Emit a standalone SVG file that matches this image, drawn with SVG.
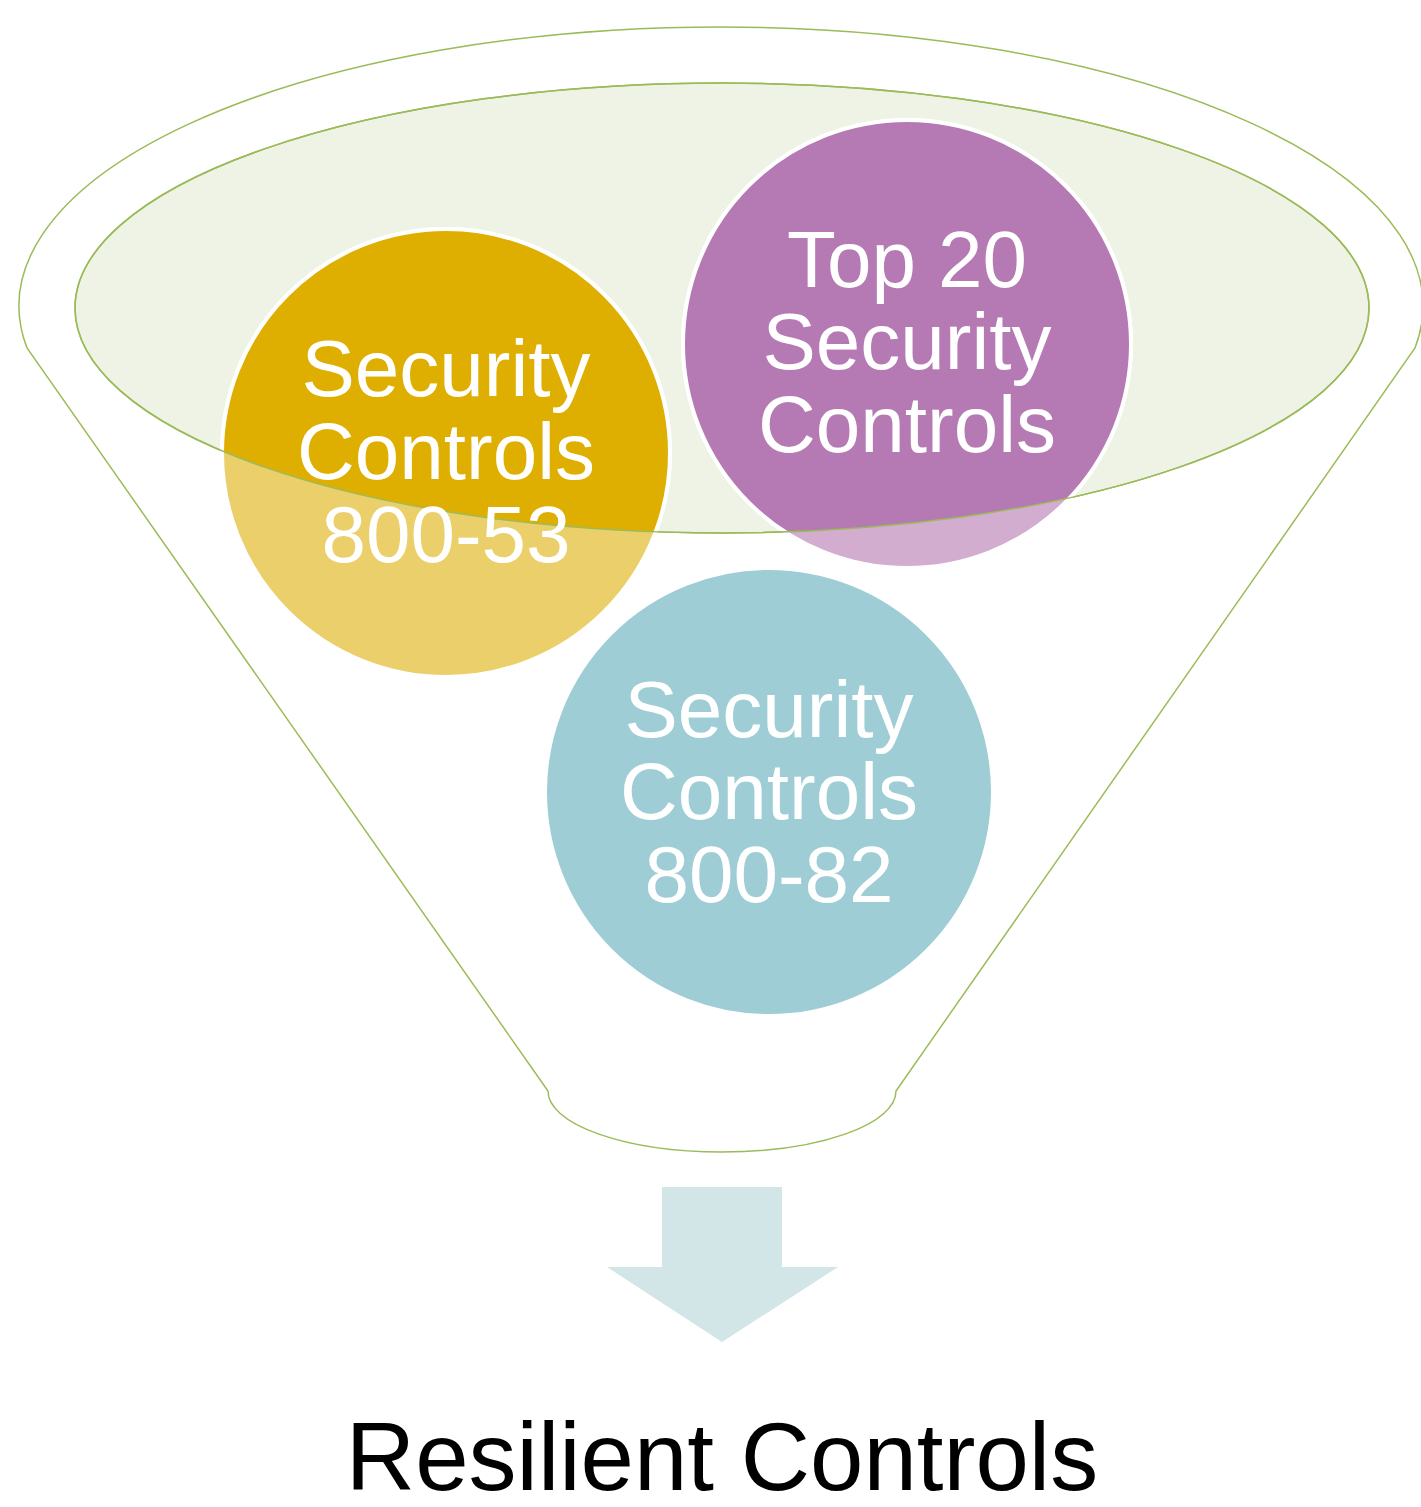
<svg xmlns="http://www.w3.org/2000/svg" width="1421" height="1507" viewBox="0 0 1421 1507">
  <style>
    .outline { fill: none; stroke: #9BBB59; stroke-width: 1.5; }
    .lbl { font-family: "Liberation Sans", Arial, sans-serif; font-size: 80px; fill: #FFFFFF; text-anchor: middle; }
    .ring { stroke: #FFFFFF; stroke-width: 4; }
    .out { font-family: "Liberation Sans", Arial, sans-serif; font-size: 96px; fill: #000000; text-anchor: middle; }
  </style>
  <defs>
    <clipPath id="bowl">
      <ellipse cx="722" cy="308" rx="647" ry="225"/>
    </clipPath>
  </defs>
  <rect width="1421" height="1507" fill="#FFFFFF"/>

  <g id="funnel">
    <path class="outline" d="M 27 348 A 702 279 0 1 1 1415 348 L 896 1091 A 174 61 0 0 1 548 1091 Z"/>
  </g>

  <g id="bowl-fill">
    <ellipse cx="722" cy="308" rx="647" ry="225" fill="#EFF3E5" stroke="#9BBB59" stroke-width="1.5"/>
  </g>

  <g id="node-80053">
    <circle class="ring" cx="446" cy="453" r="224" fill="#EBCF6A"/>
    <circle class="ring" cx="446" cy="453" r="224" fill="#DEAF00" clip-path="url(#bowl)"/>
  </g>
  <g id="node-top20">
    <circle class="ring" cx="907" cy="344" r="224" fill="#D3ADD0"/>
    <circle class="ring" cx="907" cy="344" r="224" fill="#B57AB3" clip-path="url(#bowl)"/>
  </g>
  <g id="node-80082">
    <circle class="ring" cx="769" cy="792" r="224" fill="#9ECDD5"/>
  </g>

  <g id="bowl-rim">
    <ellipse class="outline" cx="722" cy="308" rx="647" ry="225"/>
  </g>

  <g id="labels">
    <text class="lbl" x="446" y="396">Security</text>
    <text class="lbl" x="446" y="479">Controls</text>
    <text class="lbl" x="446" y="562">800-53</text>
    <text class="lbl" x="907" y="287">Top 20</text>
    <text class="lbl" x="907" y="369">Security</text>
    <text class="lbl" x="907" y="452">Controls</text>
    <text class="lbl" x="769" y="737">Security</text>
    <text class="lbl" x="769" y="819">Controls</text>
    <text class="lbl" x="769" y="902">800-82</text>
  </g>

  <g id="connectors">
    <polygon points="662,1187 782,1187 782,1267 838,1267 722,1342 607,1267 662,1267" fill="#D2E5E7"/>
  </g>

  <g id="result">
    <text class="out" x="722" y="1490">Resilient Controls</text>
  </g>
</svg>
